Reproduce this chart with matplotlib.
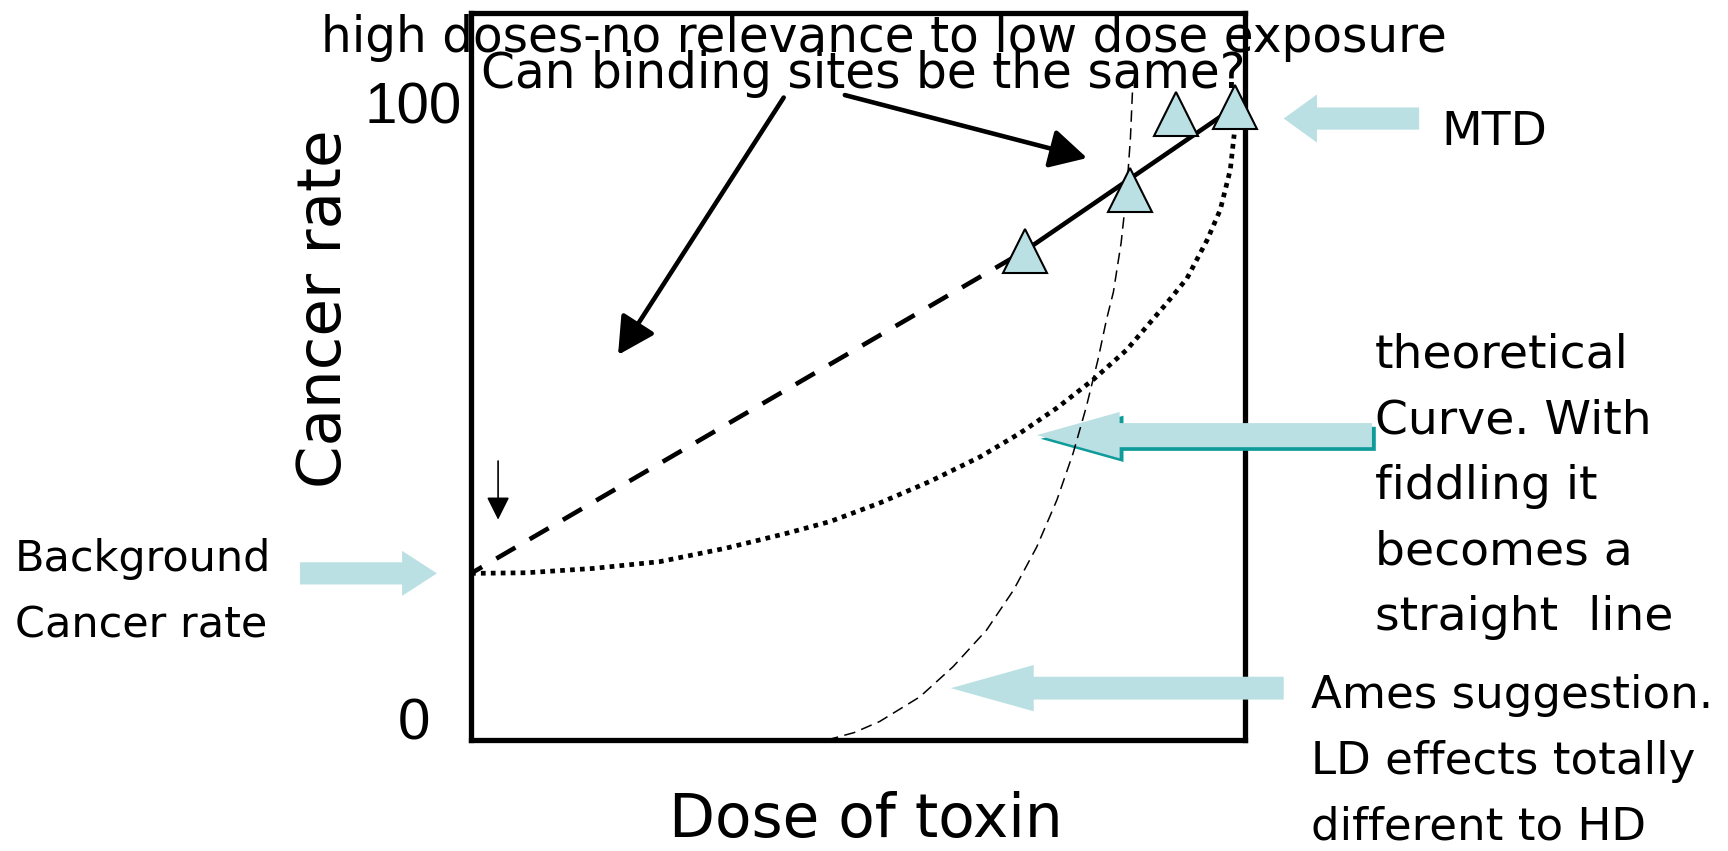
import matplotlib
matplotlib.use("Agg")
import matplotlib.pyplot as plt
from matplotlib.patches import FancyArrow

# dose (0-100 % of MTD) and cancer rate (0-100)
bg_rate = 24.4

# tested doses (triangles)
dose_pts = [71.6, 85.1, 91.1, 98.7]
rate_pts = [76.7, 86.5, 98.8, 100.0]

# straight-line extrapolation down to the background rate
extrap_x = [0, 71.6]
extrap_y = [bg_rate, 76.7]

# line through the tested doses
fit_x = [71.6, 98.7]
fit_y = [76.7, 100.0]

# theoretical curve
theo_x = [0, 7.2, 15.8, 24.4, 33.0, 40.8, 46.4, 52.8, 59.3, 65.8, 70.9, 75.7,
          80.4, 84.7, 87.3, 89.9, 92.5, 95.1, 96.8, 98.1, 98.6]
theo_y = [24.4, 24.5, 25.2, 26.3, 28.5, 30.9, 32.8, 35.8, 39.3, 43.3, 47.1, 51.2,
          55.8, 60.6, 64.4, 68.2, 72.2, 78.4, 83.3, 89.8, 95.5]

# Ames suggestion
ames_x = [46.0, 49.5, 52.8, 58.0, 62.3, 66.6, 70.1, 73.1, 75.7, 77.8, 79.5,
          81.0, 82.1, 83.0, 84.0, 84.7, 85.2, 85.5]
ames_y = [-2.6, -1.4, 0.4, 4.4, 9.3, 15.2, 21.7, 28.7, 36.3, 43.9, 51.4,
          59.0, 65.5, 70.0, 78.0, 86.1, 95.0, 103.6]

W, H = 1728, 851
LIGHT = '#bbe0e3'
TEAL = '#109b9b'
COMIC = ['DejaVu Sans']


def fx(px):
    return px / W


def fy(py):
    return 1 - py / H


fig = plt.figure(figsize=(W / 100, H / 100), dpi=100)
ax = fig.add_axes([fx(471), fy(740), (1245 - 471) / W, (740 - 13) / H])
ax.set_xlim(0, 100)
ax.set_ylim(-2.6, 115.2)
ax.set_xticks([])
ax.set_yticks([])
for s in ax.spines.values():
    s.set_linewidth(3.8)

# curves
ax.plot(extrap_x, extrap_y, color='k', lw=3.3, linestyle=(2, (4.8, 3.6)), zorder=4)
ax.plot(fit_x, fit_y, color='k', lw=3.3, solid_capstyle='butt', zorder=4)
ax.plot(theo_x, theo_y, color='k', lw=3.4, linestyle=(0, (1, 1.1)), zorder=4)
ax.plot(ames_x, ames_y, color='k', lw=1.1, linestyle=(0, (7.5, 4.2)), zorder=4)
ax.plot(dose_pts, rate_pts, linestyle='none', marker='^', ms=32,
        mfc=LIGHT, mec='k', mew=1.5, zorder=5, clip_on=False)


def block_arrow(x0, x1, y, w, hw, hl, color=LIGHT, z=3):
    a = FancyArrow(x0, y, x1 - x0, 0, width=w, head_width=hw, head_length=hl,
                   length_includes_head=True, color=color, lw=0,
                   zorder=z, clip_on=False)
    ax.add_patch(a)


# light blue pointer arrows
block_arrow(122.5, 105.0, 98.1, 3.6, 7.8, 4.3)                   # MTD
block_arrow(-22.1, -4.4, bg_rate, 3.6, 7.3, 4.5)                 # background
block_arrow(116.9, 73.6, 46.2, 3.9, 7.5, 10.7, color=TEAL, z=2.9)  # shadow
block_arrow(116.4, 73.1, 46.8, 3.9, 7.5, 10.7)                   # theoretical
block_arrow(105.0, 62.0, 5.8, 3.7, 7.5, 10.7)                    # Ames

# black arrows from the question
big = dict(arrowstyle='-|>,head_length=0.75,head_width=0.4', lw=3.3,
           color='k', mutation_scale=30, shrinkA=0, shrinkB=0)
ax.annotate('', xy=(19.0, 59.8), xytext=(40.4, 101.5), arrowprops=big,
            annotation_clip=False)
ax.annotate('', xy=(79.6, 91.7), xytext=(48.3, 101.9), arrowprops=big,
            annotation_clip=False)
ax.annotate('', xy=(3.5, 33.1), xytext=(3.5, 42.6),
            arrowprops=dict(arrowstyle='-|>,head_length=1.0,head_width=0.5',
                            lw=1.2, color='k', mutation_scale=14,
                            shrinkA=0, shrinkB=0))

# texts
fig.text(fx(884), fy(52), 'high doses-no relevance to low dose exposure',
         ha='center', va='baseline', fontsize=35, family=COMIC)
fig.text(fx(863), fy(88), 'Can binding sites be the same?',
         ha='center', va='baseline', fontsize=35, family=COMIC)
fig.text(fx(462), fy(108), '100', ha='right', va='center', fontsize=42,
         family='Liberation Sans')
fig.text(fx(430), fy(724), '0', ha='right', va='center', fontsize=42,
         family='Liberation Sans')
fig.text(fx(325), fy(309), 'Cancer rate', rotation=90, ha='center',
         va='center', fontsize=44, family=COMIC)
fig.text(fx(866), fy(821), 'Dose of toxin', ha='center', va='center',
         fontsize=43, family=COMIC)
fig.text(fx(1441), fy(145), 'MTD', ha='left', va='baseline', fontsize=34,
         family=COMIC)
# multi-line blocks: baseline given for the last line
fig.text(fx(1375), fy(630),
         'theoretical\nCurve. With\nfiddling it\nbecomes a\nstraight  line',
         ha='left', va='baseline', fontsize=34, linespacing=1.59, family=COMIC)
fig.text(fx(1311), fy(840),
         'Ames suggestion.\nLD effects totally\ndifferent to HD',
         ha='left', va='baseline', fontsize=32.5, linespacing=1.68, family=COMIC)
fig.text(fx(15), fy(637), 'Background\nCancer rate', ha='left',
         va='baseline', fontsize=31, linespacing=1.74, family=COMIC)

fig.savefig('out.png', dpi=100)
